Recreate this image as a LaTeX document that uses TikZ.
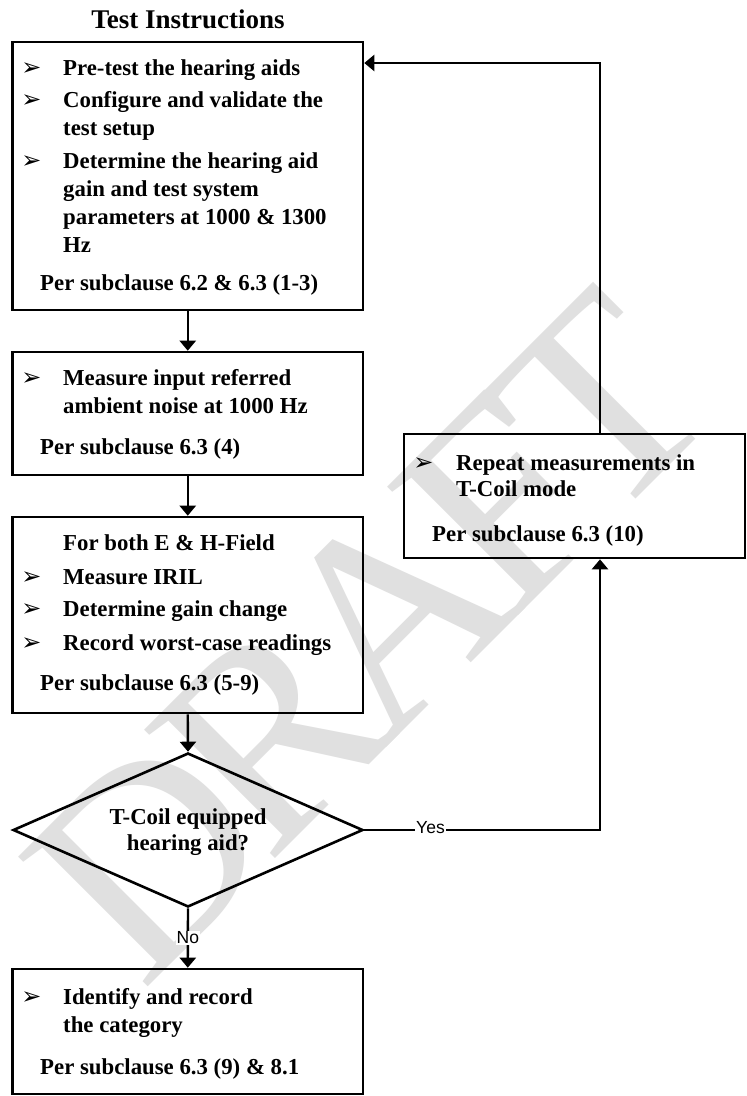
\documentclass[tikz,border=0pt]{standalone}
\usepackage{fontspec}
\setmainfont{Liberation Serif}
\newfontfamily\symfont{DejaVu Sans}
\newfontfamily\labelfont{Liberation Sans}
\usetikzlibrary{arrows.meta,shapes.geometric}
\definecolor{wmgray}{RGB}{224,224,224}

\begin{document}
\begin{tikzpicture}[x=1pt,y=-1pt,
  box/.style={draw,line width=2.6pt,inner sep=0pt},
  txt/.style={anchor=base west,inner sep=0pt,font=\bfseries\fontsize{22.8}{28}\selectfont},
  bul/.style={anchor=center,inner sep=0pt,font=\symfont\fontsize{24}{24}\selectfont},
  lab/.style={font=\labelfont\fontsize{17.5}{18}\selectfont,fill=white,inner sep=1pt},
  arr/.style={line width=2.4pt,-{Triangle[width=16pt,length=10pt]}}
]
% canvas
\useasboundingbox (0,0) rectangle (747,1096);
\fill[white] (0,0) rectangle (747,1096);

% background watermark (tightly set letters)
\node[rotate=45,text=wmgray,inner sep=0pt,font=\fontsize{280}{280}\selectfont] (wmark) at (369,635)
  {D\kern-23pt R\kern-23pt A\kern-23pt F\kern-23pt T};

% title
\node[anchor=base,inner sep=0pt,font=\bfseries\fontsize{27}{30}\selectfont] (title) at (188,28) {Test Instructions};

% boxes
\node[box,minimum width=350.5pt,minimum height=268pt] (b1) at (187.75,176) {};
\node[box,minimum width=350.5pt,minimum height=123pt] (b2) at (187.75,413.5) {};
\node[box,minimum width=350.5pt,minimum height=196pt] (b3) at (187.75,615) {};
\node[box,diamond,aspect=2.27,minimum width=350pt,minimum height=154pt] (dia) at (188,830) {};
\node[box,minimum width=350.5pt,minimum height=125pt] (b4) at (187.75,1031.5) {};
\node[box,minimum width=341pt,minimum height=124pt] (rep) at (574.5,496) {};

% box 1 text
\node[bul] (b1m1) at (31.5,69) {➢};
\node[txt] (b1t1) at (63,75) {Pre-test the hearing aids};
\node[bul] (b1m2) at (31.5,101) {➢};
\node[txt] (b1t2) at (63,107) {Configure and validate the};
\node[txt] (b1t3) at (63,135) {test setup};
\node[bul] (b1m3) at (31.5,162) {➢};
\node[txt] (b1t4) at (63,168) {Determine the hearing aid};
\node[txt] (b1t5) at (63,196) {gain and test system};
\node[txt] (b1t6) at (63,224) {parameters at 1000 \& 1300};
\node[txt] (b1t7) at (63,252) {Hz};
\node[txt] (b1p) at (40,290) {Per subclause 6.2 \& 6.3 (1-3)};

% box 2 text
\node[bul] (b2m1) at (31.5,379) {➢};
\node[txt] (b2t1) at (63,385) {Measure input referred};
\node[txt] (b2t2) at (63,413) {ambient noise at 1000 Hz};
\node[txt] (b2p) at (40,454) {Per subclause 6.3 (4)};

% box 3 text
\node[txt] (b3h) at (63,550) {For both E \& H-Field};
\node[bul] (b3m1) at (31.5,578) {➢};
\node[txt] (b3t1) at (63,584) {Measure IRIL};
\node[bul] (b3m2) at (31.5,610) {➢};
\node[txt] (b3t2) at (63,616) {Determine gain change};
\node[bul] (b3m3) at (31.5,644) {➢};
\node[txt] (b3t3) at (63,650) {Record worst-case readings};
\node[txt] (b3p) at (40,690) {Per subclause 6.3 (5-9)};

% decision text
\node[txt,anchor=base] (dt1) at (188,824) {T-Coil equipped};
\node[txt,anchor=base] (dt2) at (188,850) {hearing aid?};

% box 4 text
\node[bul] (b4m1) at (31.5,998) {➢};
\node[txt] (b4t1) at (63,1004) {Identify and record};
\node[txt] (b4t2) at (63,1032) {the category};
\node[txt] (b4p) at (40,1074) {Per subclause 6.3 (9) \& 8.1};

% repeat box text
\node[bul] (rm1) at (423.5,464) {➢};
\node[txt] (rt1) at (456,470) {Repeat measurements in};
\node[txt] (rt2) at (456,496) {T-Coil mode};
\node[txt] (rp) at (432,541) {Per subclause 6.3 (10)};

% loop corners
\coordinate (loopB) at (600,830);
\coordinate (loopT) at (600,63);

% connectors
\draw[arr] (b1.south) -- (b2.north);
\draw[arr] (b2.south) -- (b3.north);
\draw[arr] (b3.south) -- (dia.north);
\draw[arr] (dia.south) -- node[lab] (no) {No} (b4.north);
\draw[arr] (dia.east) -- (loopB) -- (loopB |- rep.south);
\node[lab] (yes) at (430.5,828) {Yes};
\draw[arr] (loopB |- rep.north) -- (loopT) -- (loopT -| b1.east);
\end{tikzpicture}
\end{document}
